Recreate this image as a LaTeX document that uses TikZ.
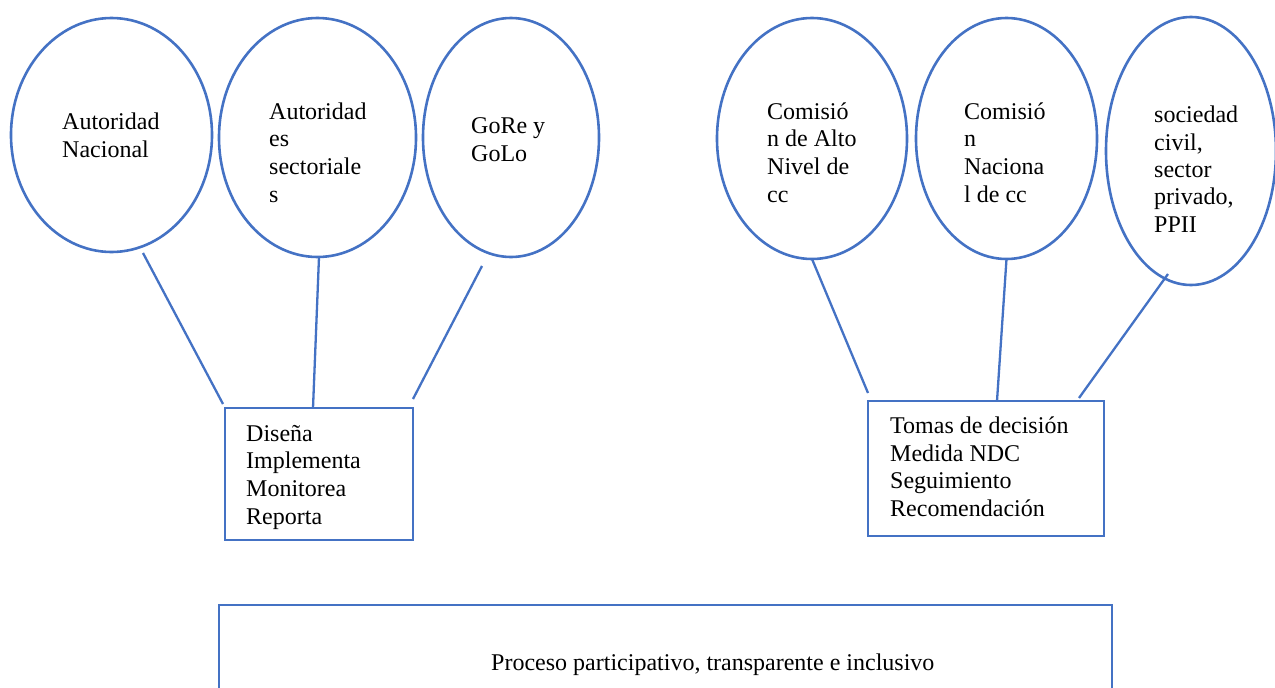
\documentclass[tikz,border=0pt]{standalone}
\usepackage{fontspec}
\setmainfont{Liberation Serif}
\usetikzlibrary{shapes.geometric,calc}
\definecolor{ublue}{HTML}{4472C4}
\begin{document}
\begin{tikzpicture}[x=1pt,y=-1pt,
  ell/.style={ellipse,draw=ublue,line width=2.6pt,inner sep=0pt,outer sep=0pt},
  boxn/.style={rectangle,draw=ublue,line width=2.6pt,inner sep=0pt,outer sep=0pt},
  txt/.style={anchor=base west,align=left,inner sep=0pt,font=\fontsize{24}{27.6}\selectfont},
  conn/.style={draw=ublue,line width=2.3pt}]
\useasboundingbox (0,0) rectangle (1275,688);
% ellipses
\node[ell,minimum width=201,minimum height=234] (e1) at (111.5,135) {};
\node[ell,minimum width=197,minimum height=239] (e2) at (317.5,137.5) {};
\node[ell,minimum width=176,minimum height=239] (e3) at (511,137.5) {};
\node[ell,minimum width=190,minimum height=241] (e4) at (812,138.5) {};
\node[ell,minimum width=181,minimum height=241] (e5) at (1006.5,138.5) {};
\node[ell,minimum width=170,minimum height=268] (e6) at (1191,151) {};
% ellipse texts (anchored at the baseline of the last line)
\node[txt] (t1) at (62,157) {Autoridad\\Nacional};
\node[txt] (t2) at (269,202) {Autoridad\\es\\sectoriale\\s};
\node[txt] (t3) at (471,161) {GoRe y\\GoLo};
\node[txt] (t4) at (767,202) {Comisió\\n de Alto\\Nivel de\\cc};
\node[txt] (t5) at (964,202) {Comisió\\n\\Naciona\\l de cc};
\node[txt,font=\fontsize{24}{27.3}\selectfont] (t6) at (1154,232) {sociedad\\civil,\\sector\\privado,\\PPII};
% boxes
\node[boxn,minimum width=188,minimum height=132] (b1) at (319,474) {};
\node[txt] (tb1) at (246,524) {Diseña\\Implementa\\Monitorea\\Reporta};
\node[boxn,minimum width=236,minimum height=135] (b2) at (986,468.5) {};
\node[txt] (tb2) at (890,516.5) {Tomas de decisión\\Medida NDC\\Seguimiento\\Recomendación};
\node[boxn,minimum width=893,minimum height=130] (b3) at (665.5,670) {};
\node[txt] (tb3) at (491,670) {Proceso participativo, transparente e inclusivo};
% connector free ends
\coordinate (p1) at (143,253);
\coordinate (p3) at (482,266);
\coordinate (p6) at (1168,274);
% connectors
\draw[conn] (p1) -- ($(b1.north west)+(-2,-4)$);
\draw[conn] ($(e2.south)+(1.5,0)$) -- ($(b1.north)+(-6,0)$);
\draw[conn] (p3) -- ($(b1.north east)+(0,-9)$);
\draw[conn] (e4.south) -- ($(b2.north west)+(0,-8)$);
\draw[conn] (e5.south) -- ($(b2.north)+(11,0)$);
\draw[conn] (p6) -- ($(b2.north east)+(-25,-3)$);
\end{tikzpicture}
\end{document}
